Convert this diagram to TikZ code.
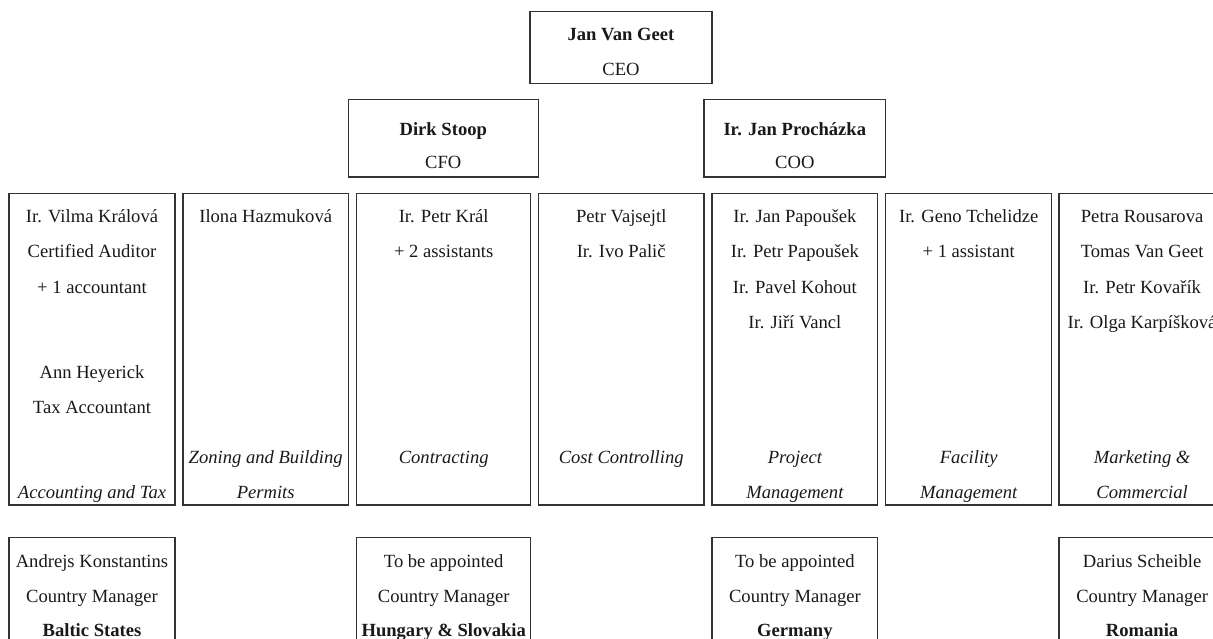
\documentclass[tikz,border=0pt]{standalone}
\usepackage{fontspec}
\setmainfont{Liberation Serif}
\begin{document}
\begin{tikzpicture}[x=1pt, y=-1pt,
  box/.style={draw=black!80, line width=1.4pt, inner sep=0pt, outer sep=0pt},
  txt/.style={anchor=base, inner sep=0pt, text=black!90, font=\fontsize{18.6}{22}\selectfont},
  head/.style={txt, font=\fontsize{18.6}{22}\selectfont\bfseries},
  dept/.style={txt, font=\fontsize{18.6}{22}\selectfont\itshape}]
  \useasboundingbox (0,0) rectangle (1213,639);
  \clip (0,0) rectangle (1213,639);

  % Management boxes
  \node[box, minimum width=182, minimum height=72] (ceo) at (621,47.7) {};
  \node[box, minimum width=190, minimum height=77.4] (cfo) at (443.3,138.2) {};
  \node[box, minimum width=181.7, minimum height=77.4] (coo) at (794.8,138.2) {};

  \node[head] (ceo-name) at (621,41) {Jan Van Geet};
  \node[txt] (ceo-title) at (621,76) {CEO};
  \node[head] (cfo-name) at (443.3,135.3) {Dirk Stoop};
  \node[txt] (cfo-title) at (443.3,168.7) {CFO};
  \node[head] (coo-name) at (794.8,135.3) {Ir. Jan Procházka};
  \node[txt] (coo-title) at (794.8,168.7) {COO};

  % Department columns
  \node[box, minimum width=166, minimum height=311.7] (acc) at (92,349.2) {};
  \node[box, minimum width=165.3, minimum height=311.7] (zon) at (265.7,349.2) {};
  \node[box, minimum width=174, minimum height=311.7] (con) at (443.7,349.2) {};
  \node[box, minimum width=165.7, minimum height=311.7] (cost) at (621.2,349.2) {};
  \node[box, minimum width=165.7, minimum height=311.7] (pm) at (794.9,349.2) {};
  \node[box, minimum width=166, minimum height=311.7] (fm) at (968.7,349.2) {};
  \node[box, minimum width=166, minimum height=311.7] (mkt) at (1142.1,349.2) {};

  \node[txt] (acc-1) at (92,223) {Ir. Vilma Králová};
  \node[txt] (acc-2) at (92,258) {Certified Auditor};
  \node[txt] (acc-3) at (92,293) {+ 1 accountant};
  \node[txt] (acc-4) at (92,378) {Ann Heyerick};
  \node[txt] (acc-5) at (92,413) {Tax Accountant};
  \node[dept] (acc-dept) at (92,498) {Accounting and Tax};

  \node[txt] (zon-1) at (265.7,223) {Ilona Hazmuková};
  \node[dept] (zon-dept1) at (265.7,463) {Zoning and Building};
  \node[dept] (zon-dept2) at (265.7,498) {Permits};

  \node[txt] (con-1) at (443.7,223) {Ir. Petr Král};
  \node[txt] (con-2) at (443.7,258) {+ 2 assistants};
  \node[dept] (con-dept) at (443.7,463) {Contracting};

  \node[txt] (cost-1) at (621.2,223) {Petr Vajsejtl};
  \node[txt] (cost-2) at (621.2,258) {Ir. Ivo Palič};
  \node[dept] (cost-dept) at (621.2,463) {Cost Controlling};

  \node[txt] (pm-1) at (794.9,223) {Ir. Jan Papoušek};
  \node[txt] (pm-2) at (794.9,258) {Ir. Petr Papoušek};
  \node[txt] (pm-3) at (794.9,293) {Ir. Pavel Kohout};
  \node[txt] (pm-4) at (794.9,328) {Ir. Jiří Vancl};
  \node[dept] (pm-dept1) at (794.9,463) {Project};
  \node[dept] (pm-dept2) at (794.9,498) {Management};

  \node[txt] (fm-1) at (968.7,223) {Ir. Geno Tchelidze};
  \node[txt] (fm-2) at (968.7,258) {+ 1 assistant};
  \node[dept] (fm-dept1) at (968.7,463) {Facility};
  \node[dept] (fm-dept2) at (968.7,498) {Management};

  \node[txt] (mkt-1) at (1142.1,223) {Petra Rousarova};
  \node[txt] (mkt-2) at (1142.1,258) {Tomas Van Geet};
  \node[txt] (mkt-3) at (1142.1,293) {Ir. Petr Kovařík};
  \node[txt] (mkt-4) at (1142.1,328) {Ir. Olga Karpíšková};
  \node[dept] (mkt-dept1) at (1142.1,463) {Marketing \&};
  \node[dept] (mkt-dept2) at (1142.1,498) {Commercial};

  % Country managers
  \node[box, minimum width=166, minimum height=200] (baltic) at (92,637.7) {};
  \node[box, minimum width=174, minimum height=200] (hunsk) at (443.7,637.7) {};
  \node[box, minimum width=165.7, minimum height=200] (ger) at (794.9,637.7) {};
  \node[box, minimum width=166, minimum height=200] (rom) at (1142.1,637.7) {};

  \node[txt] (baltic-1) at (92,567.5) {Andrejs Konstantins};
  \node[txt] (baltic-2) at (92,602) {Country Manager};
  \node[head] (baltic-3) at (92,636) {Baltic States};
  \node[txt] (hunsk-1) at (443.7,567.5) {To be appointed};
  \node[txt] (hunsk-2) at (443.7,602) {Country Manager};
  \node[head] (hunsk-3) at (443.7,636) {Hungary \& Slovakia};
  \node[txt] (ger-1) at (794.9,567.5) {To be appointed};
  \node[txt] (ger-2) at (794.9,602) {Country Manager};
  \node[head] (ger-3) at (794.9,636) {Germany};
  \node[txt] (rom-1) at (1142.1,567.5) {Darius Scheible};
  \node[txt] (rom-2) at (1142.1,602) {Country Manager};
  \node[head] (rom-3) at (1142.1,636) {Romania};
\end{tikzpicture}
\end{document}
